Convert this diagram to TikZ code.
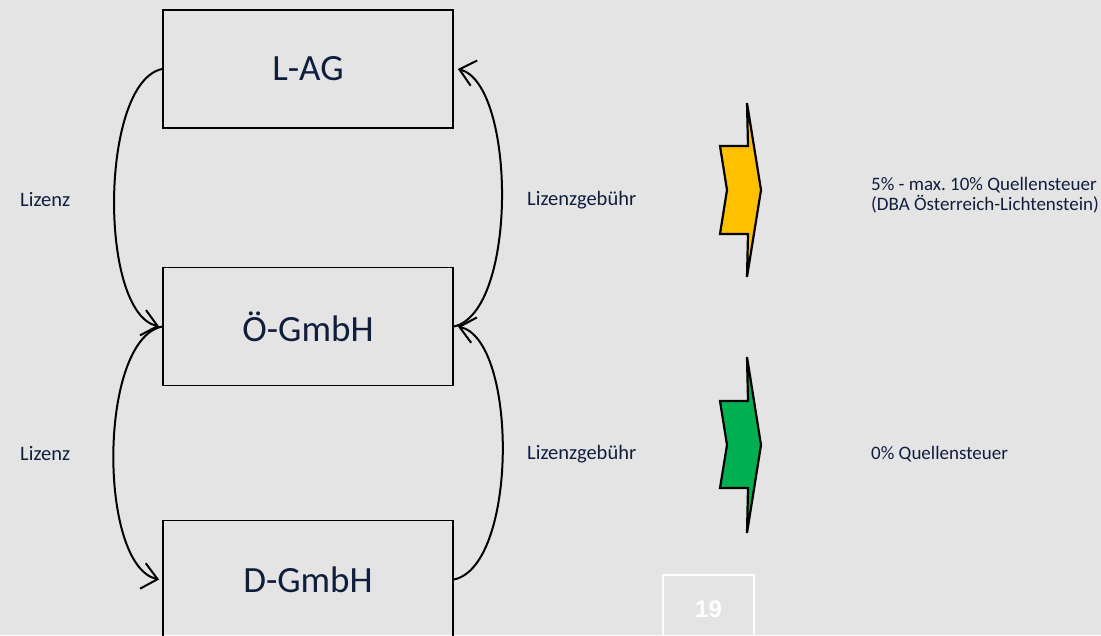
\documentclass[tikz,border=0pt]{standalone}
\usepackage{fontspec}
\setmainfont{Carlito}
\newfontfamily\numfont{Liberation Sans}
\usetikzlibrary{arrows.meta}
\frenchspacing
\definecolor{bg}{RGB}{228,228,228}
\definecolor{navy}{RGB}{16,30,62}
\definecolor{amber}{RGB}{255,192,0}
\definecolor{leaf}{RGB}{0,176,80}
\tikzset{
  entity/.style={draw=black, line width=1.8pt, minimum width=290pt, minimum height=118pt,
    inner sep=0pt, text=navy, font=\fontsize{37}{42}\selectfont},
  flow/.style={line width=2pt, -{Straight Barb[length=15pt,width=26pt,line width=2pt]}},
  lbl/.style={anchor=west, inner sep=0pt, text=navy, font=\fontsize{20.5}{23}\selectfont},
  note/.style={anchor=west, inner sep=0pt, text=navy, align=left, font=\fontsize{19}{20.5}\selectfont},
  bolt/.style={draw=black, line width=2.2pt, line join=miter},
}
\begin{document}
\begin{tikzpicture}[x=1pt,y=-1pt]
  % canvas
  \fill[bg] (0,0) rectangle (1101,635);
  \useasboundingbox (0,0) rectangle (1101,635);

  % companies
  \node[entity] (lag) at (308,69) {L-AG};
  \node[entity] (oeg) at (308,326.5) {Ö-GmbH};
  \node[entity] (dg)  at (308,579.5) {D-GmbH};

  % licence flows (left) and fee flows (right)
  \draw[flow] (lag.west) .. controls (100,82) and (98,312) .. ([xshift=-3pt]oeg.west);
  \draw[flow] (oeg.west) .. controls (98,340) and (98,566) .. ([xshift=-3pt]dg.west);
  \draw[flow] (oeg.east) .. controls (518,312) and (516,84) .. ([xshift=4pt]lag.east);
  \draw[flow] (dg.east) .. controls (518,566) and (518,340) .. ([xshift=4pt]oeg.east);

  % flow labels
  \node[lbl] (liz1) at (20,200) {Lizenz};
  \node[lbl] (geb1) at (527,200) {Lizenzgebühr};
  \node[lbl] (liz2) at (20,454) {Lizenz};
  \node[lbl] (geb2) at (527,454) {Lizenzgebühr};

  % withholding tax markers
  \filldraw[bolt, fill=amber] (747,103) -- (761,190) -- (747,277) -- (748,234) -- (720,234)
    -- (727,190) -- (720,146) -- (748,146) -- cycle;
  \filldraw[bolt, fill=leaf] (747,357) -- (761,445) -- (747,533) -- (748,488) -- (720,488)
    -- (727,445) -- (720,401) -- (748,401) -- cycle;

  \node[note] (tax1) at (871,195) {5\% - max. 10\% Quellensteuer\\(DBA Österreich-Lichtenstein)};
  \node[note] (tax2) at (871,454) {0\% Quellensteuer};

  % page number
  \draw[white, line width=1.5pt] (663,640) -- (663,575) -- (754,575) -- (754,640);
  \node[text=white, font=\numfont\bfseries\fontsize{24}{28}\selectfont] (pg) at (708.5,609) {19};
\end{tikzpicture}
\end{document}
